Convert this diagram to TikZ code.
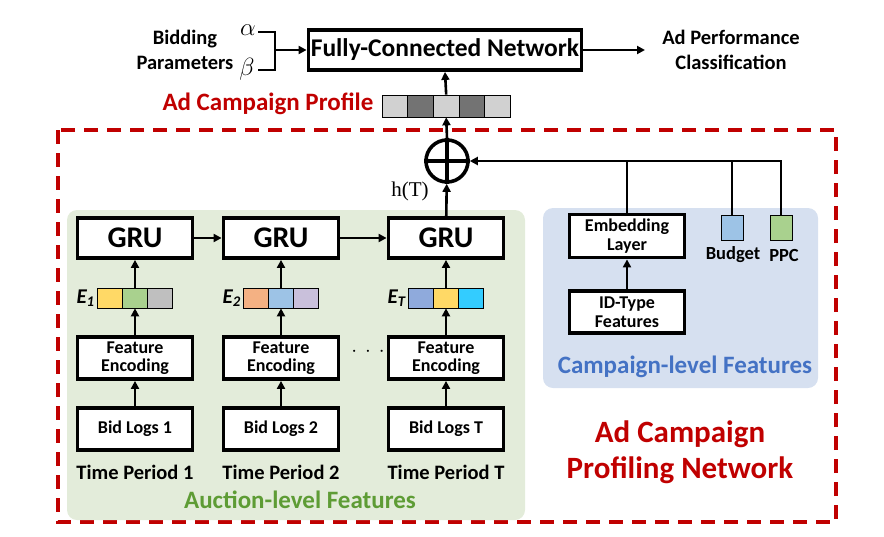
\documentclass[tikz,border=0pt]{standalone}
\usepackage{fontspec}
\setmainfont{Carlito}
\newfontfamily\serifht{Liberation Serif}
\usetikzlibrary{arrows.meta}
\definecolor{adred}{HTML}{C00000}
\definecolor{auctgreen}{HTML}{E3ECDA}
\definecolor{campblue}{HTML}{D6E0F0}
\definecolor{txtgreen}{HTML}{5E9C35}
\definecolor{txtblue}{HTML}{4472C4}
\definecolor{cyellow}{HTML}{FFD966}
\definecolor{cgreen}{HTML}{A9D18E}
\definecolor{cgrey}{HTML}{BFBFBF}
\definecolor{corange}{HTML}{F4B183}
\definecolor{cltblue}{HTML}{9DC3E6}
\definecolor{clav}{HTML}{C9C0DB}
\definecolor{cblue}{HTML}{8FAADC}
\definecolor{ccyan}{HTML}{33CCFF}
\begin{document}
\begin{tikzpicture}[x=1pt,y=-1pt,>={Triangle[length=8pt,width=8pt]},line width=2.6pt,font=\bfseries]
\tikzset{blk/.style={draw,line width=3.8pt,fill=white,inner sep=0pt,align=center,font=\bfseries\fontsize{18}{18.5}\selectfont},
gru/.style={blk,minimum width=115pt,minimum height=40pt,font=\bfseries\fontsize{30}{30}\selectfont},
enc/.style={blk,minimum width=115pt,minimum height=42pt},
cell/.style={draw,line width=0.7pt,minimum width=25pt,minimum height=20pt,inner sep=0pt},
lbl/.style={font=\bfseries\fontsize{20.5}{24.5}\selectfont,align=center}}
\useasboundingbox (0,0) rectangle (884,536);
% panels
\draw[adred,line width=3.2pt,dash pattern=on 14pt off 9pt] (58,130) rectangle (836,522);
\fill[auctgreen,rounded corners=10pt] (67,210) rectangle (525,520);
\fill[campblue,rounded corners=10pt] (543,208) rectangle (818,388);
% top
\node[blk,minimum width=273pt,minimum height=40pt,font=\bfseries\fontsize{25.5}{26}\selectfont] (fc) at (445,50) {Fully-Connected Network};
\node[lbl] (bid) at (185,50) {Bidding\\Parameters};
\node[font=\fontsize{30}{30}\selectfont] (alpha) at (248,30) {$\alpha$};
\node[font=\fontsize{30}{30}\selectfont] (beta) at (247,69) {$\beta$};
\draw (258,32) -- (275,32) -- (275,70) -- (258,70);
\coordinate (brk) at (275,50);
\draw[->] (brk) -- (fc.west);
\node[lbl] (perf) at (731,50) {Ad Performance\\Classification};
\draw[->] (fc.east) -- (645,50);
% profile
\foreach \i/\c in {0/black!18,1/black!55,2/black!18,3/black!55,4/black!18}
  \node[cell,fill=\c,minimum width=25.6pt,minimum height=22pt] (p\i) at (395+25.6*\i,106) {};
\node[adred,anchor=east,font=\bfseries\fontsize{25}{25}\selectfont] (prof) at (378,104) {Ad Campaign Profile};
\draw[->] (p2.north) -- (fc.south);
\node[draw,circle,minimum size=42pt,line width=3.6pt,inner sep=0pt] (plus) at (447,161) {};
\draw[line width=3.6pt] (plus.north) -- (plus.south) (plus.west) -- (plus.east);
\draw[->] (plus.north) -- (p2.south);
% auction-level
\foreach \n/\x/\t/\a/\b/\c in {1/135/1/cyellow/cgreen/cgrey,2/281/2/corange/cltblue/clav,3/446/T/cblue/cyellow/ccyan}{
  \node[gru] (gru\n) at (\x,238) {GRU};
  \node[cell,fill=\a] (e\n a) at (\x-25,298) {};
  \node[cell,fill=\b] (e\n b) at (\x,298) {};
  \node[cell,fill=\c] (e\n c) at (\x+25,298) {};
  \node[anchor=east,font=\bfseries\itshape\fontsize{21}{21}\selectfont,inner sep=2pt] (lab\n) at (\x-37,298) {E\textsubscript{\t}};
  \node[enc] (fe\n) at (\x,358) {Feature\\Encoding};
  \node[enc] (log\n) at (\x,429) {Bid Logs \t};
  \node[lbl] (tp\n) at (\x,472) {Time Period \t};
  \draw[->] (log\n) -- (fe\n);
  \draw[->] (fe\n) -- (e\n b);
  \draw[->] (e\n b) -- (gru\n);
}
\draw[->] (gru1) -- (gru2);
\draw[->] (gru2) -- (gru3);
\draw[->] (gru3) -- (plus);
\node[font=\serifht\fontsize{21}{21}\selectfont] (ht) at (410,191) {h(T)};
\node[font=\fontsize{22}{22}\selectfont] (dots) at (368,352) {$\cdot\,\cdot\,\cdot$};
\node[txtgreen,font=\bfseries\fontsize{25}{25}\selectfont] (auct) at (300,500) {Auction-level Features};
% campaign-level
\node[blk,minimum width=115pt,minimum height=43pt] (emb) at (627,236) {Embedding\\Layer};
\node[blk,minimum width=115pt,minimum height=42pt] (idf) at (627,312) {ID-Type\\Features};
\draw[->] (idf) -- (emb);
\node[draw,line width=0.8pt,fill=cltblue,minimum width=22pt,minimum height=25pt,inner sep=0pt] (bud) at (732,228) {};
\node[draw,line width=0.8pt,fill=cgreen,minimum width=22pt,minimum height=25pt,inner sep=0pt] (ppc) at (781,228) {};
\node[font=\bfseries\fontsize{18.5}{18.5}\selectfont] (budl) at (733,255) {Budget};
\node[font=\bfseries\fontsize{18.5}{18.5}\selectfont] (ppcl) at (784,255) {PPC};
\coordinate (top) at (781,161);
\draw (ppc.north) -- (top) -- (bud.north |- top);
\draw (bud.north) -- (bud.north |- top);
\draw (emb.north) -- (emb.north |- top);
\draw[->] (bud.north |- top) -- (plus.east);
\node[txtblue,font=\bfseries\fontsize{25}{25}\selectfont] (camp) at (685,367) {Campaign-level Features};
\node[adred,align=center,font=\bfseries\fontsize{31}{36}\selectfont] (net) at (680,452) {Ad Campaign\\Profiling Network};
\end{tikzpicture}
\end{document}
